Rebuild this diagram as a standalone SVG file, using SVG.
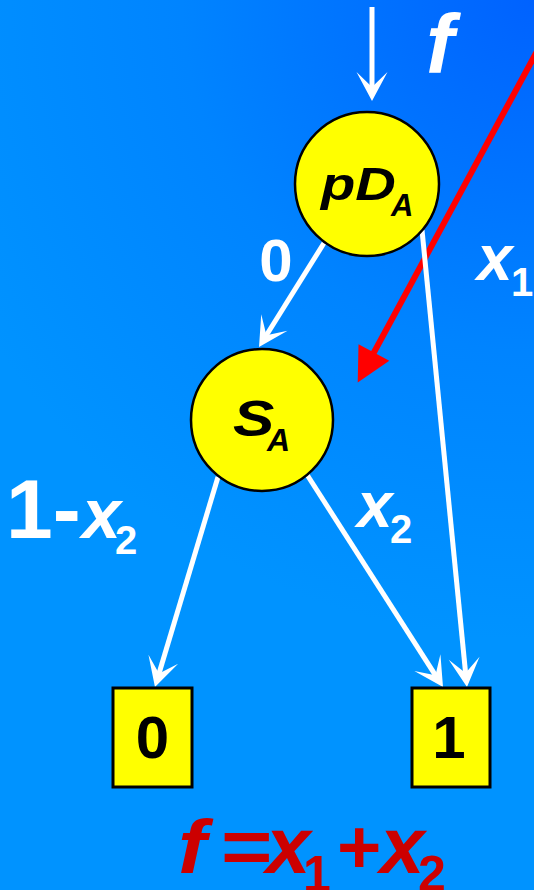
<svg xmlns="http://www.w3.org/2000/svg" width="534" height="890" viewBox="0 0 534 890">
<defs>
<radialGradient id="bg" gradientUnits="userSpaceOnUse" cx="534" cy="0" r="640">
<stop offset="0" stop-color="#0062ff"/>
<stop offset="0.55" stop-color="#0084ff"/>
<stop offset="1" stop-color="#0093ff"/>
</radialGradient>
<marker id="wa" markerUnits="userSpaceOnUse" markerWidth="32" markerHeight="32" refX="16" refY="16" orient="auto" overflow="visible">
<path d="M29,16 L0,0.5 L15,16 L0,31.5 Z" fill="#ffffff"/>
</marker>
<marker id="ra" markerUnits="userSpaceOnUse" markerWidth="36" markerHeight="36" refX="4" refY="18" orient="auto" overflow="visible">
<path d="M34,18 L0,0.5 L0,35.5 Z" fill="#ff0000"/>
</marker>
<style>
.t{font-family:"Liberation Sans",Arial,sans-serif;font-weight:bold}
.i{font-style:italic}
.w{fill:#ffffff}
.k{fill:#000000}
.r{fill:#cc0000}
.e{stroke:#ffffff;stroke-width:5;fill:none;marker-end:url(#wa)}
.n{fill:#ffff00;stroke:#000000;stroke-width:2.5}
.b{fill:#ffff00;stroke:#000000;stroke-width:3}
</style>
</defs>
<rect x="0" y="0" width="534" height="890" fill="url(#bg)"/>
<g id="connectors">
<line x1="548" y1="31" x2="372" y2="356" stroke="#ff0000" stroke-width="6" marker-end="url(#ra)"/>
<line class="e" x1="372" y1="7" x2="372" y2="88"/>
<line class="e" x1="324" y1="243" x2="265.9" y2="336"/>
<line class="e" x1="422" y1="230" x2="465.7" y2="674.1"/>
<line class="e" x1="218" y1="477" x2="158.7" y2="674.5"/>
<line class="e" x1="304" y1="470" x2="436" y2="676.1"/>
</g>
<g id="labels">
<text class="t i w" x="426" y="73" font-size="84">f</text>
<text class="t w" x="276" y="281" font-size="60" text-anchor="middle">0</text>
<text class="t i w" x="477" y="280" font-size="64">x</text>
<text class="t w" x="511" y="296" font-size="40">1</text>
<text class="t i w" x="357" y="527" font-size="64">x</text>
<text class="t w" x="390" y="543" font-size="40">2</text>
<text class="t w" x="6" y="538" font-size="84">1-</text>
<text class="t i w" x="82" y="538" font-size="70">x</text>
<text class="t w" x="115" y="554" font-size="40">2</text>
</g>
<g id="node-pDA">
<circle class="n" cx="367" cy="184" r="72"/>
<text class="t i k" transform="translate(321,200) scale(1.22,1)" font-size="46">pD</text>
<text class="t i k" x="391" y="216" font-size="31">A</text>
</g>
<g id="node-SA">
<circle class="n" cx="262" cy="420" r="71"/>
<text class="t i k" transform="translate(233,436) scale(1.24,1)" font-size="50">S</text>
<text class="t i k" x="267" y="451" font-size="32">A</text>
</g>
<g id="node-0">
<rect class="b" x="113" y="688" width="79" height="99"/>
<text class="t k" x="152.5" y="758" font-size="60" text-anchor="middle">0</text>
</g>
<g id="node-1">
<rect class="b" x="412" y="688" width="78" height="99"/>
<text class="t k" x="449" y="758" font-size="60" text-anchor="middle">1</text>
</g>
<g id="formula">
<text class="t i r" transform="translate(178,873) scale(1.12,1)" font-size="76">f</text>
<text class="t r" transform="translate(221,873) scale(1.16,1)" font-size="76">=</text>
<text class="t i r" x="266" y="873" font-size="80">x</text>
<text class="t r" x="303" y="891" font-size="50">1</text>
<text class="t r" x="337" y="873" font-size="76">+</text>
<text class="t i r" x="380" y="873" font-size="80">x</text>
<text class="t r" x="418" y="891" font-size="50">2</text>
</g>
</svg>
